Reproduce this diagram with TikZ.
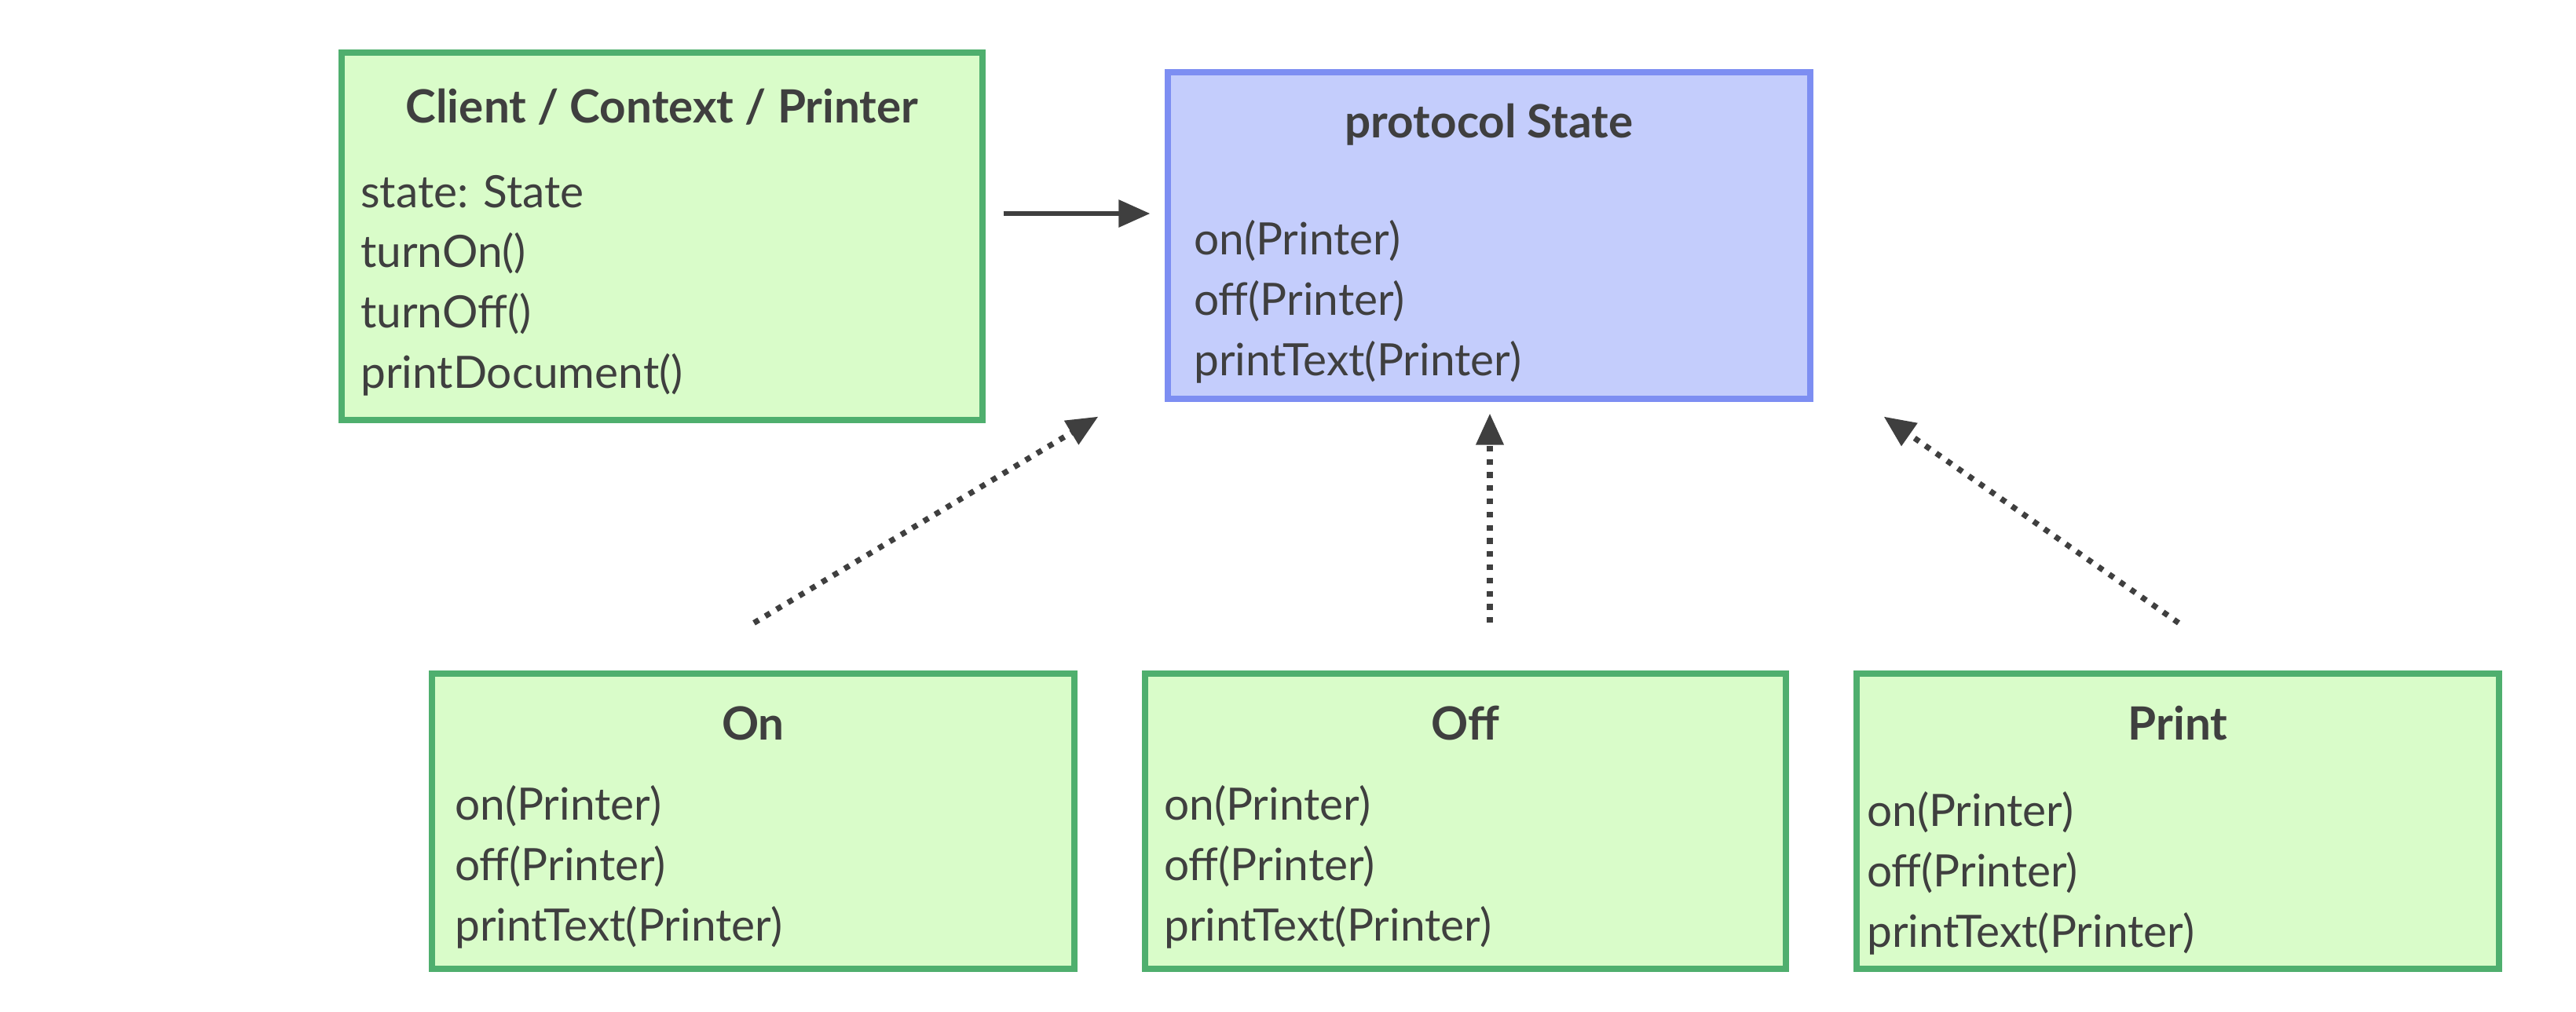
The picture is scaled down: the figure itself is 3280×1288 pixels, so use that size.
\documentclass[tikz,border=0pt]{standalone}
\usepackage{fontspec}
\setmainfont{Lato}
\usetikzlibrary{arrows.meta,calc,positioning}

\definecolor{boxgreen}{HTML}{D9FCC9}
\definecolor{linegreen}{HTML}{4FAF6E}
\definecolor{boxblue}{HTML}{C4CDFC}
\definecolor{lineblue}{HTML}{7D8EF2}
\definecolor{ink}{HTML}{3F3F3F}

\tikzset{
  umlbox/.style={draw=linegreen,fill=boxgreen,line width=1.8pt,inner sep=0pt},
  protobox/.style={umlbox,draw=lineblue,fill=boxblue},
  boxtitle/.style={font=\fontsize{14.6}{19.2}\selectfont\bfseries,text=ink,inner sep=0pt},
  members/.style={font=\fontsize{14.2}{19.2}\selectfont,text=ink,align=left,inner sep=0pt,anchor=base west},
  assoc/.style={draw=ink,line width=1.5pt,-{Triangle[length=10pt,width=8.5pt]}},
  realize/.style={assoc,line width=1.8pt,dash pattern=on 1.8pt off 2.4pt},
}

\begin{document}
\begin{tikzpicture}[x=0.25pt,y=-0.25pt]
\useasboundingbox (0,0) rectangle (3280,1288);

% boxes
\node[umlbox,minimum width=204pt,minimum height=117pt] (client) at (843,301) {};
\node[protobox,minimum width=204.5pt,minimum height=104pt] (state) at (1896,300) {};
\node[umlbox,minimum width=204.5pt,minimum height=94pt] (on) at (959,1046) {};
\node[umlbox,minimum width=204pt,minimum height=94pt] (off) at (1866,1046) {};
\node[umlbox,minimum width=204.5pt,minimum height=94pt] (print) at (2773,1046) {};

% titles
\node[boxtitle] (clientT) at ($(client.north)+(0,73)$) {Client / Context / Printer};
\node[boxtitle] (stateT) at ($(state.north)+(0,70)$) {protocol State};
\node[boxtitle] (onT) at ($(on.north)+(0,67)$) {On};
\node[boxtitle] (offT) at ($(off.north)+(0,67)$) {Off};
\node[boxtitle] (printT) at ($(print.north)+(0,67)$) {Print};

% members (base = last line)
\node[members] (clientM) at ($(client.north west)+(27,431)$) {state: State\\turnOn()\\turnOff()\\printDocument()};
\node[members] (stateM) at ($(state.north west)+(36,390)$) {on(Printer)\\off(Printer)\\printText(Printer)};
\node[members] (onM) at ($(on.north west)+(32,344)$) {on(Printer)\\off(Printer)\\printText(Printer)};
\node[members] (offM) at ($(off.north west)+(27,344)$) {on(Printer)\\off(Printer)\\printText(Printer)};
\node[members] (printM) at ($(print.north west)+(16,352)$) {on(Printer)\\off(Printer)\\printText(Printer)};

% connectors
\draw[assoc] ($(client.east)+(23,-29)$) -- ($(state.west)+(-19,-28)$);

\coordinate (onTail) at ($(on.north)+(1,-61)$);
\coordinate (offTail) at ($(off.north)+(31,-61)$);
\coordinate (printTail) at ($(print.north)+(1,-61)$);
\coordinate (onHead) at ($(state.south west)+(-85,19)$);
\coordinate (offHead) at ($(state.south)+(1,15)$);
\coordinate (printHead) at ($(state.south east)+(90,19)$);

\draw[realize] (onTail) -- (onHead);
\draw[realize] (offTail) -- (offHead);
\draw[realize] (printTail) -- (printHead);

\end{tikzpicture}
\end{document}
